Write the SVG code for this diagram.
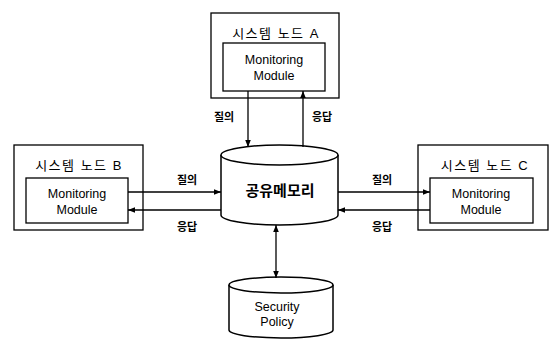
<svg xmlns="http://www.w3.org/2000/svg" width="554" height="340" viewBox="0 0 554 340">
<defs>
<marker id="ah" viewBox="0 0 10 10" refX="10" refY="5" markerWidth="7" markerHeight="7" orient="auto-start-reverse" markerUnits="userSpaceOnUse">
<path d="M0,1 L10,5 L0,9 z" fill="#000"/>
</marker>
<style>
.box{fill:#fff;stroke:#000;stroke-width:1.3}
.t{font-family:"Liberation Sans","Noto Sans CJK KR",sans-serif;fill:#000;text-anchor:middle}
.title{font-size:13px;letter-spacing:1.5px}
.mm{font-size:12.5px}
.lbl{font-size:11px;font-weight:bold}
.ln{stroke:#000;stroke-width:1.3;fill:none}
.cyl{fill:#fff;stroke:#000;stroke-width:1.5}
</style>
</defs>
<rect width="554" height="340" fill="#fff"/>
<g id="nodeA">
<rect class="box" x="211" y="13" width="128" height="85"/>
<text class="t title" x="276" y="38">시스템 노드  A</text>
<rect class="box" x="223" y="43" width="102" height="48"/>
<text class="t mm" x="274" y="64">Monitoring</text>
<text class="t mm" x="274" y="80">Module</text>
</g>
<g id="nodeB">
<rect class="box" x="14" y="145" width="129" height="85"/>
<text class="t title" x="79" y="170">시스템 노드  B</text>
<rect class="box" x="26" y="178" width="102" height="45"/>
<text class="t mm" x="77" y="198">Monitoring</text>
<text class="t mm" x="77" y="214">Module</text>
</g>
<g id="nodeC">
<rect class="box" x="418" y="145" width="130" height="85"/>
<text class="t title" x="485" y="170">시스템 노드  C</text>
<rect class="box" x="430" y="178" width="103" height="45"/>
<text class="t mm" x="481" y="198">Monitoring</text>
<text class="t mm" x="481" y="214">Module</text>
</g>
<g id="shm">
<path class="cyl" d="M221,155 L221,215 A58.5,10 0 0 0 338,215 L338,155 A58.5,10 0 0 0 221,155 Z"/>
<path class="cyl" d="M221,155 A58.5,10 0 0 0 338,155"/>
<text class="t" x="280" y="196" style="font-size:15px;font-weight:bold">공유메모리</text>
</g>
<g id="policy">
<path class="cyl" d="M229,285 L229,330 A52,8 0 0 0 333,330 L333,285 A52,8 0 0 0 229,285 Z"/>
<path class="cyl" d="M229,285 A52,8 0 0 0 333,285"/>
<text class="t mm" x="277" y="311">Security</text>
<text class="t mm" x="277" y="326">Policy</text>
</g>
<g id="connectors">
<line class="ln" x1="248" y1="91" x2="248" y2="147" marker-end="url(#ah)"/>
<line class="ln" x1="303" y1="147" x2="303" y2="91" marker-end="url(#ah)"/>
<line class="ln" x1="128" y1="192" x2="221" y2="192" marker-end="url(#ah)"/>
<line class="ln" x1="221" y1="210" x2="128" y2="210" marker-end="url(#ah)"/>
<line class="ln" x1="338" y1="192" x2="430" y2="192" marker-end="url(#ah)"/>
<line class="ln" x1="430" y1="210" x2="338" y2="210" marker-end="url(#ah)"/>
<line class="ln" x1="276" y1="225" x2="276" y2="278" marker-start="url(#ah)" marker-end="url(#ah)"/>
<text class="t lbl" x="224" y="121">질의</text>
<text class="t lbl" x="322" y="121">응답</text>
<text class="t lbl" x="187" y="184">질의</text>
<text class="t lbl" x="187" y="231">응답</text>
<text class="t lbl" x="382" y="184">질의</text>
<text class="t lbl" x="382" y="231">응답</text>
</g>
</svg>
